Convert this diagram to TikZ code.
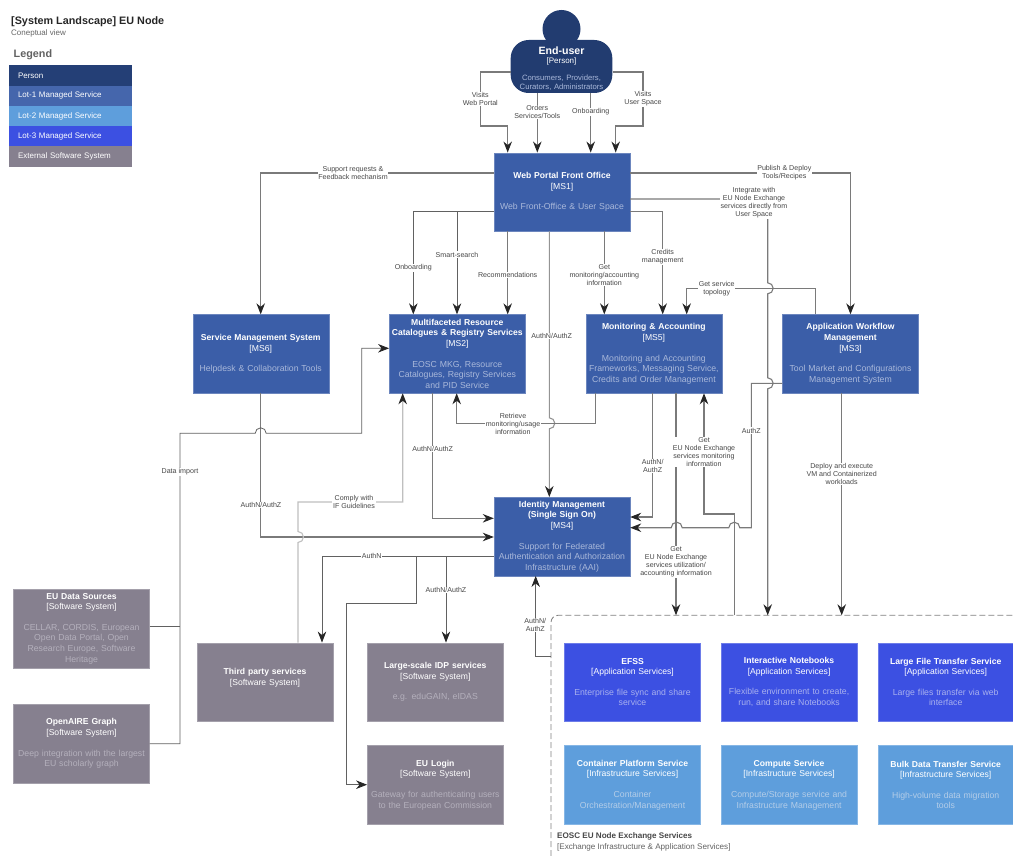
\documentclass[tikz,border=0pt]{standalone}
\usepackage{fontspec}
\setmainfont{Liberation Sans}
\usetikzlibrary{arrows.meta,positioning,calc}
\definecolor{personblue}{HTML}{223C70}
\definecolor{lotone}{HTML}{3B5EA8}
\definecolor{lottwo}{HTML}{5E9EDC}
\definecolor{lotthree}{HTML}{3C50E2}
\definecolor{extgray}{HTML}{86808F}
\definecolor{lotonedesc}{HTML}{A9B8DA}
\definecolor{lottwodesc}{HTML}{B4CDE8}
\definecolor{lotthreedesc}{HTML}{A8B0EE}
\definecolor{extdesc}{HTML}{B4B0BC}
\colorlet{desc}{white}
\newcommand{\svctext}[3]{{\fontsize{8.6}{10.6}\selectfont\bfseries #1}\\{}[#2]\\[10pt]{\fontsize{8.7}{10.6}\selectfont\color{desc}#3}}
\tikzset{main base/.style={draw,line width=.4pt,align=center,inner sep=0pt,text width=136pt,minimum width=136pt,minimum height=78.5pt,text=white,font=\fontsize{8.6}{10.6}\selectfont}, }
\tikzset{lot one/.style={main base,fill=lotone,draw=lotone!75!white,execute at begin node={\colorlet{desc}{lotonedesc}}}, }
\tikzset{lot two/.style={main base,fill=lottwo,draw=lottwo!75!white,execute at begin node={\colorlet{desc}{lottwodesc}}}, }
\tikzset{lot three/.style={main base,fill=lotthree,draw=lotthree!75!white,execute at begin node={\colorlet{desc}{lotthreedesc}}}, }
\tikzset{external/.style={main base,fill=extgray,draw=extgray!75!white,execute at begin node={\colorlet{desc}{extdesc}}}, }
\tikzset{legend row/.style={minimum width=122.3pt,minimum height=20.3pt,inner sep=0pt,text=white,text width=105pt,font=\fontsize{8}{9}\selectfont}, }
\tikzset{linea base/.style={draw=black!52,line width=1.1pt}, }
\tikzset{linea/.style={linea base,-{Stealth[length=11pt,width=8.5pt,inset=3.5pt,black!85]}}, }
\tikzset{linea faint/.style={linea,draw=black!25}, }
\tikzset{linea mid/.style={linea,draw=black!42}, }
\tikzset{linea thin/.style={linea,draw=black!62,line width=.8pt}, }
\tikzset{rel/.style={fill=white,inner sep=.6pt,align=center,text=black!72,font=\fontsize{7.1}{8}\selectfont}, }
\begin{document}
\begin{tikzpicture}[x=1pt,y=-1pt]
  \useasboundingbox (0,0) rectangle (1013,856);
  % title and legend
  \node[anchor=west,inner sep=0pt,font=\fontsize{10.8}{12}\selectfont\bfseries,text=black!85] (title) at (11,22) {[System Landscape] EU Node};
  \node[anchor=west,inner sep=0pt,font=\fontsize{8}{9}\selectfont,text=black!60] (subtitle) at (11,33) {Coneptual view};
  \node[anchor=west,inner sep=0pt,font=\fontsize{10.8}{12}\selectfont\bfseries,text=black!62] (legend) at (13.5,54.5) {Legend};
  \foreach \t/\c [count=\i] in {Person/personblue!90!lotone,Lot-1 Managed Service/lotone!95!white,Lot-2 Managed Service/lottwo,Lot-3 Managed Service/lotthree,External Software System/extgray}
    \node[legend row,fill=\c] (leg\i) at (70.5,{55.3+\i*20.25}) {\t};
  %
  % person
  \node[circle,fill=personblue,minimum size=38pt,inner sep=0pt] (head) at (561.5,29) {};
  \node[fill=personblue,rounded corners=18pt,text width=101.6pt,minimum height=53pt,inner sep=0pt,align=center,text=white,font=\fontsize{8}{9.5}\selectfont] (enduser) at (561.5,66.5)
    {{\fontsize{10.6}{12}\selectfont\bfseries\rule{0pt}{11.6pt}End-user}\\{}[Person]\\[8pt]{\fontsize{7.7}{8.6}\selectfont\color{lotonedesc}Consumers, Providers,\\Curators, Administrators}};
  %
  % managed services
  \node[lot one] (web) at (562,192) {\svctext{Web Portal Front Office}{MS1}{Web Front-Office \& User Space}};
  \node[lot one] (ms6) at (260.7,353.8) {\svctext{Service Management System}{MS6}{Helpdesk \& Collaboration Tools}};
  \node[lot one,right=60.2pt of ms6] (ms2) {\svctext{Multifaceted Resource\\Catalogues \& Registry Services}{MS2}{EOSC MKG, Resource\\Catalogues, Registry Services\\and PID Service}};
  \node[lot one,right=60.2pt of ms2] (ms5) {\svctext{Monitoring \& Accounting}{MS5}{Monitoring and Accounting\\Frameworks, Messaging Service,\\Credits and Order Management}};
  \node[lot one,right=60.2pt of ms5] (ms3) {\svctext{Application Workflow\\Management}{MS3}{Tool Market and Configurations\\Management System}};
  \node[lot one] (ms4) at (562,536.5) {\svctext{Identity Management\\(Single Sign On)}{MS4}{Support for Federated\\Authentication and Authorization\\Infrastructure (AAI)}};
  %
  % external systems
  \node[external] (eudata) at (81.5,628.5) {\svctext{EU Data Sources}{Software System}{CELLAR, CORDIS, European\\Open Data Portal, Open\\Research Europe, Software\\Heritage}};
  \node[external] (openaire) at (81.5,743.5) {\svctext{OpenAIRE Graph}{Software System}{Deep integration with the largest\\EU scholarly graph}};
  \node[external] (third) at (265,682) {{\bfseries Third party services}\\{}[Software System]\\\mbox{}};
  \node[external] (idp) at (435.3,682) {\svctext{Large-scale IDP services}{Software System}{e.g. eduGAIN, eIDAS}};
  \node[external,below=24pt of idp] (eulogin) {\svctext{EU Login}{Software System}{Gateway for authenticating users\\to the European Commission}};
  %
  % exchange services
  \node[lot three] (efss) at (632.5,682) {\svctext{EFSS}{Application Services}{Enterprise file sync and share\\service}};
  \node[lot three,right=20.2pt of efss] (notebooks) {\svctext{Interactive Notebooks}{Application Services}{Flexible environment to create,\\run, and share Notebooks}};
  \node[lot three,right=20.2pt of notebooks] (transfer) {\svctext{Large File Transfer Service}{Application Services}{Large files transfer via web\\interface}};
  \node[lot two,below=24pt of efss] (container) {\svctext{Container Platform Service}{Infrastructure Services}{Container\\Orchestration/Management}};
  \node[lot two,below=24pt of notebooks] (compute) {\svctext{Compute Service}{Infrastructure Services}{Compute/Storage service and\\Infrastructure Management}};
  \node[lot two,below=24pt of transfer] (bulk) {\svctext{Bulk Data Transfer Service}{Infrastructure Services}{High-volume data migration\\tools}};
  %
  % exchange boundary
  \coordinate (bndtop) at (551,615.3);
  \coordinate (bndleft) at (551,656.7);
  \draw[black!50,line width=.8pt,dash pattern=on 6pt off 3pt,rounded corners=7pt] (551,856) -- (bndtop) -- (1013,615.3);
  \node[anchor=west,inner sep=0pt,font=\fontsize{8.1}{9}\selectfont\bfseries,text=black!72] (bndname) at (557,836.7) {EOSC EU Node Exchange Services};
  \node[anchor=west,inner sep=0pt,font=\fontsize{8.1}{9}\selectfont,text=black!62] (bndtag) at (557,847) {[Exchange Infrastructure \& Application Services]};
  %
  % connectors going straight down
  \foreach \x /\a /\b in{537.3/enduser/web,590.7/enduser/web,507.7/web/ms2,604.3/web/ms5}
    \draw[linea] (\x,0 |- \a.south) -- (\x,0 |- \b.north);
  \draw[linea] (enduser.west |- 0,72) -- (480.3,72) -- (480.3,126) -- (507.7,126) -- (507.7,0 |- web.north);
  \draw[linea] (enduser.east |- 0,72) -- (643,72) -- (643,126) -- (615.7,126) -- (615.7,0 |- web.north);
  \draw[linea] (web.west |- 0,173) -| (ms6.north);
  \draw[linea thin] (web.west |- 0,211.3) -| (413.3,0 |- ms2.north);
  \draw[linea thin] (web.west |- 0,211.3) -| (457,0 |- ms2.north);
  \draw[linea] (web.east |- 0,211.3) -| (662.7,0 |- ms5.north);
  \draw[linea] (web.east |- 0,173) -| (ms3.north);
  \draw[linea mid] (549.3,0 |- web.south) -- (549.3,417.8) arc[start angle=-90,end angle=90,radius=5.5] -- (549.3,0 |- ms4.north);
  \draw[linea] (web.east |- 0,199) -- (767.7,199) -- (767.7,282.8) arc[start angle=-90,end angle=90,radius=5.5] -- (767.7,377.8) arc[start angle=-90,end angle=90,radius=5.5] -- (767.7,0 |- bndtop);
  \draw[linea] (815.3,0 |- ms3.north) -- (815.3,288.3) -- (686.7,288.3) -- (686.7,0 |- ms5.north);
  \draw[linea] (ms3.west |- 0,383.3) -- (751.3,383.3) -- (751.3,527.7) -- (739.8,527.7) arc[start angle=0,end angle=-180,radius=5.5] -- (682.2,527.7) arc[start angle=0,end angle=-180,radius=5.5] -- (ms4.east |- 0,527.7);
  \draw[linea] (841.7,0 |- ms3.south) -- (841.7,0 |- bndtop);
  \draw[linea] (652.7,0 |- ms5.south) -- (652.7,517) -- (ms4.east |- 0,517);
  \draw[linea] (595.3,0 |- ms5.south) -- (595.3,423.3) -- (456.7,423.3) -- (456.7,0 |- ms2.south);
  \draw[linea] (676,0 |- ms5.south) -- (676,0 |- bndtop);
  \draw[linea] (734.7,0 |- bndtop) -- (734.7,514) -- (704,514) -- (704,0 |- ms5.south);
  \draw[linea] (432.7,0 |- ms2.south) -- (432.7,518.3) -- (ms4.west |- 0,518.3);
  \draw[linea] (ms6.south) -- (260.7,537) -- (ms4.west |- 0,537);
  \draw[linea faint] (298,0 |- third.north) -- (298,542.5) arc[start angle=90,end angle=-90,radius=5.5] -- (298,502) -- (402.7,502) -- (402.7,0 |- ms2.south);
  \draw[linea thin,-] (eudata.east |- 0,626.7) -- (180,626.7);
  \draw[linea thin] (openaire.east |- 0,743.7) -- (180,743.7) -- (180,433.3) -- (255.2,433.3) arc[start angle=180,end angle=360,radius=5.5] -- (361.7,433.3) -- (361.7,348.3) -- (ms2.west |- 0,348.3);
  \draw[linea thin] (ms4.west |- 0,556.7) -- (322,556.7) -- (322,0 |- third.north);
  \draw[linea thin] (ms4.west |- 0,556.7) -- (446,556.7) -- (446,0 |- idp.north);
  \draw[linea thin] (ms4.west |- 0,556.7) -- (416.3,556.7) -- (416.3,603.3) -- (346.7,603.3) -- (346.7,784.7) -- (eulogin.west |- 0,784.7);
  \draw[linea thin] (bndleft) -- (535.7,656.7) -- (535.7,0 |- ms4.south);
  %
  % connector labels
  \node[rel] (lvisitweb) at (480.3,99) {Visits\\Web Portal};
  \node[rel] (lorders) at (537.3,112) {Orders\\Services/Tools};
  \node[rel] (lonboard) at (590.7,112) {Onboarding};
  \node[rel] (lvisituser) at (643,99) {Visits\\User Space};
  \node[rel] (lsupport) at (353,173) {Support requests \&\\Feedback mechanism};
  \node[rel] (lonboardms) at (413.3,268) {Onboarding};
  \node[rel] (lsearch) at (457,254.5) {Smart-search};
  \node[rel] (lrecomm) at (507.7,275) {Recommendations};
  \node[rel] (lauthweb) at (551.7,336) {AuthN/AuthZ};
  \node[rel] (lmonacc) at (604.3,275) {Get\\monitoring/accounting\\information};
  \node[rel] (lcredits) at (662.7,257) {Credits\\management};
  \node[rel] (lpublish) at (784.3,173) {Publish \& Deploy\\Tools/Recipes};
  \node[rel] (lintegrate) at (754,203) {Integrate with\\EU Node Exchange\\services directly from\\User Space};
  \node[rel] (ltopology) at (716.7,288.3) {Get service\\topology};
  \node[rel] (lauthz) at (751.3,430.5) {AuthZ};
  \node[rel] (ldeploy) at (841.7,474) {Deploy and execute\\VM and Containerized\\workloads};
  \node[rel] (lauthms) at (652.7,466) {AuthN/\\AuthZ};
  \node[rel] (lretrieve) at (513,423.5) {Retrieve\\monitoring/usage\\information};
  \node[rel] (lusage) at (676,561.7) {Get\\EU Node Exchange\\services utilization/\\accounting information};
  \node[rel] (lmonitor) at (704,452) {Get\\EU Node Exchange\\services monitoring\\information};
  \node[rel] (lauthtwo) at (432.7,449) {AuthN/AuthZ};
  \node[rel] (lauthsix) at (261,505) {AuthN/AuthZ};
  \node[rel] (lcomply) at (354,502) {Comply with\\IF Guidelines};
  \node[rel] (limport) at (180,472) {Data import};
  \node[rel] (lauthn) at (371.7,555.5) {AuthN};
  \node[rel] (lauthidp) at (446,590) {AuthN/AuthZ};
  \node[rel] (lauthex) at (535.3,625) {AuthN/\\AuthZ};
\end{tikzpicture}
\end{document}
